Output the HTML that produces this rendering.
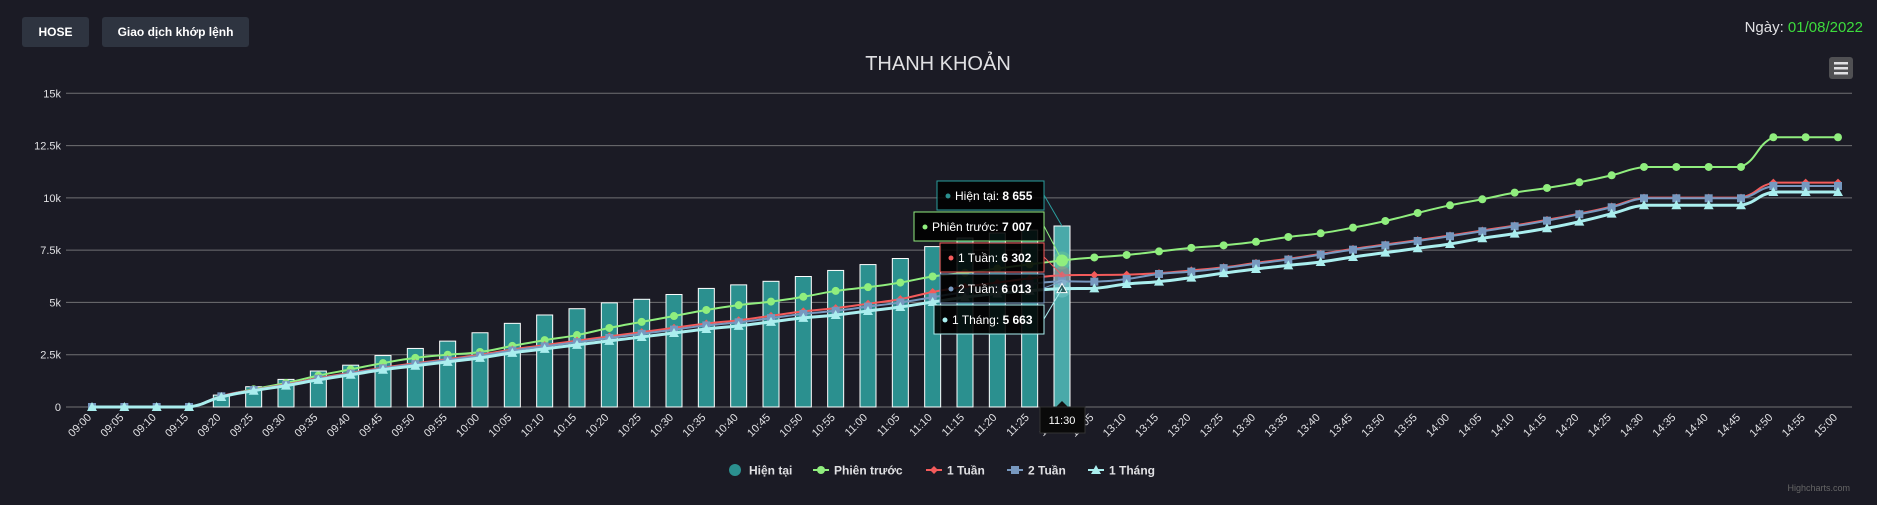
<!DOCTYPE html>
<html><head><meta charset="utf-8"><style>
html,body{margin:0;padding:0;background:#1b1b25;width:1877px;height:505px;overflow:hidden;font-family:"Liberation Sans","Noto Sans CJK SC",sans-serif}
.btn{position:absolute;top:17px;height:30px;background:#2e3440;border-radius:3px;color:#fff;font-size:12px;font-weight:bold;line-height:30px;text-align:center}
svg{position:absolute;left:0;top:0}
</style></head><body>
<div class="btn" style="left:22px;width:67px">HOSE</div>
<div class="btn" style="left:102px;width:147px">Giao dịch khớp lệnh</div>
<div style="position:absolute;right:14px;top:19px;font-size:15px;color:#e0e0e3">Ngày: <span style="color:#3ddc3d">01/08/2022</span></div>
<svg id="chart" width="1877" height="505"></svg>
<script>
const categories=["09:00","09:05","09:10","09:15","09:20","09:25","09:30","09:35","09:40","09:45","09:50","09:55","10:00","10:05","10:10","10:15","10:20","10:25","10:30","10:35","10:40","10:45","10:50","10:55","11:00","11:05","11:10","11:15","11:20","11:25","11:30","13:05","13:10","13:15","13:20","13:25","13:30","13:35","13:40","13:45","13:50","13:55","14:00","14:05","14:10","14:15","14:20","14:25","14:30","14:35","14:40","14:45","14:50","14:55","15:00"];
const current=[0,0,0,0,570,970,1320,1720,2000,2460,2800,3150,3550,4000,4400,4700,4980,5150,5380,5670,5840,6010,6240,6530,6810,7100,7670,8080,8320,8460,8655];
const prevSession=[0,0,0,0,500,850,1150,1500,1800,2100,2350,2500,2630,2920,3200,3440,3780,4070,4350,4640,4870,5040,5270,5550,5730,5950,6240,6420,6620,6820,7007,7150,7270,7440,7610,7730,7900,8130,8307,8577,8895,9278,9645,9932,10250,10474,10745,11080,11478,11478,11478,11478,12898,12898,12898];
const week1=[0,0,0,0,520,820,1080,1380,1630,1880,2090,2290,2500,2750,2960,3170,3380,3580,3790,3990,4150,4360,4570,4730,4940,5160,5500,5750,5950,6150,6302,6313,6330,6400,6530,6680,6890,7090,7320,7560,7770,7980,8200,8440,8680,8950,9250,9590,10010,10010,10010,10010,10727,10727,10727];
const week2=[0,0,0,0,510,810,1060,1350,1600,1850,2050,2250,2450,2700,2900,3100,3300,3500,3700,3900,4050,4250,4450,4600,4800,5000,5250,5500,5700,5880,6013,5993,6121,6360,6473,6640,6850,7050,7284,7523,7731,7939,8163,8402,8641,8909,9215,9550,9980,9980,9980,9980,10569,10569,10569];
const month1=[0,0,0,0,480,780,1020,1300,1540,1780,1970,2160,2350,2590,2780,2970,3160,3350,3540,3730,3880,4070,4260,4400,4590,4780,5020,5250,5430,5560,5663,5675,5882,5993,6185,6400,6600,6770,6934,7173,7380,7589,7795,8068,8290,8546,8862,9245,9645,9645,9645,9645,10282,10282,10282];
const yTicks=[0,2500,5000,7500,10000,12500,15000];
const yTickLabels=["0","2.5k","5k","7.5k","10k","12.5k","15k"];
const hoverIndex=30;

const NS="http://www.w3.org/2000/svg";
const svg=document.getElementById('chart');
const X0=92,X1=1838,Y0=407,Y1=93.3,YMAX=15000;
function xPos(i){return X0+(X1-X0)*i/(categories.length-1);}
function yPos(v){return Y0-(Y0-Y1)*v/YMAX;}
function mk(tag,attrs,parent){const e=document.createElementNS(NS,tag);for(const k in attrs)e.setAttribute(k,attrs[k]);(parent||svg).appendChild(e);return e;}

// title
const title=mk('text',{x:938,y:70,'text-anchor':'middle','font-size':20,fill:'#e0e0e3'});


title.textContent='THANH KHOẢN';
// menu
const menu=mk('g',{});


mk('rect',{x:1829,y:57,width:24,height:22,rx:3,fill:'#505053'},menu);
for(let k=0;k<3;k++)mk('rect',{x:1834,y:62+k*5,width:14,height:2.5,fill:'#e0e0e3'},menu);

// grid
yTicks.forEach((v,i)=>{
  const g=mk('line',{x1:66,x2:1852,y1:yPos(v),y2:yPos(v),stroke:'#707073','stroke-width':1});
  
  
  const t=mk('text',{x:61,y:yPos(v)+4,'text-anchor':'end','font-size':11,fill:'#e0e0e3'});
  
  
  t.textContent=yTickLabels[i];
});
// x labels
categories.forEach((c,i)=>{
  const x=xPos(i),y=418;
  const t=mk('text',{x:x,y:y,'text-anchor':'end','font-size':11,fill:'#e0e0e3',transform:`rotate(-45 ${x} ${y})`});
  
  
  t.textContent=c;
});
// bars
current.forEach((v,i)=>{
  const w=16;
  const r=mk('rect',{x:xPos(i)-w/2,y:yPos(v),width:w,height:Y0-yPos(v),fill:i===hoverIndex?'#4aa9a9':'#2b908f',stroke:'#fff','stroke-width':1});
  
  
});
function spline(arr){
  const p=arr.map((v,i)=>[xPos(i),yPos(v)]);
  let d=`M${p[0][0]},${p[0][1]}`;
  const s=1.5;
  for(let i=1;i<p.length;i++){
    const a=p[i-1],b=p[i],pa=p[i-2]||a,pb=p[i+1]||b;
    let c1x=a[0]+(b[0]-pa[0])/(s*2.5),c1y=a[1]+(b[1]-pa[1])/(s*2.5);
    let c2x=b[0]-(pb[0]-a[0])/(s*2.5),c2y=b[1]-(pb[1]-a[1])/(s*2.5);
    const lo=Math.min(a[1],b[1]),hi=Math.max(a[1],b[1]);
    c1y=Math.min(hi,Math.max(lo,c1y));c2y=Math.min(hi,Math.max(lo,c2y));
    d+=` C${c1x},${c1y} ${c2x},${c2y} ${b[0]},${b[1]}`;
  }
  return d;
}
function series(arr,color,width,marker,name){
  const g=mk('g',{});
  
  
  mk('path',{d:spline(arr),fill:'none',stroke:color,'stroke-width':width},g);
  arr.forEach((v,i)=>{
    const x=xPos(i),y=yPos(v);
    if(i===hoverIndex) mk('circle',{cx:x,cy:y,r:9,fill:color,'fill-opacity':0.25},g);
    let m;
    if(marker==='circle') m=mk('circle',{cx:x,cy:y,r:i===hoverIndex?6:4,fill:color},g);
    else if(marker==='diamond') m=mk('path',{d:`M${x},${y-4}L${x+4},${y}L${x},${y+4}L${x-4},${y}Z`,fill:color},g);
    else if(marker==='square') m=mk('rect',{x:x-4,y:y-4,width:8,height:8,fill:color},g);
    else m=mk('path',{d:`M${x},${y-5}L${x+5},${y+4}L${x-5},${y+4}Z`,fill:i===hoverIndex?'#2b5c5c':color,stroke:i===hoverIndex?'#fff':'none'},g);
    
    
  });
}
series(prevSession,'#90ee7e',2,'circle','series-previous-session');
series(week1,'#f45b5b',2,'diamond','series-1-week');
series(week2,'#7798BF',2,'square','series-2-weeks');
series(month1,'#aaeeee',3,'triangle','series-1-month');

// tooltip
const hx=xPos(hoverIndex);
const tips=[
 {label:'Hiện tại',val:current[hoverIndex],color:'#2b908f',border:'#2a9d9d',x:937,y:181,py:yPos(current[hoverIndex])},
 {label:'Phiên trước',val:prevSession[hoverIndex],color:'#90ee7e',border:'#90ee7e',x:914,y:212,py:yPos(prevSession[hoverIndex])},
 {label:'1 Tuần',val:week1[hoverIndex],color:'#f45b5b',border:'#f45b5b',x:940,y:243,py:yPos(week1[hoverIndex])},
 {label:'2 Tuần',val:week2[hoverIndex],color:'#7798BF',border:'#7798BF',x:940,y:274,py:yPos(week2[hoverIndex])},
 {label:'1 Tháng',val:month1[hoverIndex],color:'#aaeeee',border:'#aaeeee',x:934,y:305,py:yPos(month1[hoverIndex])}
];
function fmt(v){return String(v).replace(/\B(?=(\d{3})+(?!\d))/g,' ');}
tips.forEach(t=>{
  const g=mk('g',{});
  
  
  mk('line',{x1:1044,y1:t.y+14,x2:hx,y2:t.py,stroke:t.border,'stroke-width':1},g);
  mk('rect',{x:t.x,y:t.y,width:1044-t.x,height:29,fill:'#000','fill-opacity':0.88,stroke:t.border,'stroke-width':1},g);
  mk('circle',{cx:t.x+11,cy:t.y+15,r:2.5,fill:t.color},g);
  const tx=mk('text',{x:t.x+18,y:t.y+19,'font-size':12,fill:'#fff'},g);
  tx.textContent=t.label+': ';
  const b=mk('tspan',{'font-weight':'bold'},tx);b.textContent=fmt(t.val);
});
const xl=mk('g',{});


mk('path',{d:`M${hx-6},407L${hx},401L${hx+6},407Z`,fill:'#111'},xl);
mk('rect',{x:hx-22,y:407,width:45,height:26,fill:'#0a0a0a',stroke:'#333'},xl);
const xlt=mk('text',{x:hx,y:424,'text-anchor':'middle','font-size':11,fill:'#fff'},xl);xlt.textContent=categories[hoverIndex];

// legend
const leg=[['Hiện tại','#2b908f','bar',735],['Phiên trước','#90ee7e','circle',821],['1 Tuần','#f45b5b','diamond',934],['2 Tuần','#7798BF','square',1015],['1 Tháng','#aaeeee','triangle',1096]];
leg.forEach(l=>{
  const g=mk('g',{});
  
  
  const x=l[3],y=470;
  if(l[2]==='bar'){mk('circle',{cx:x,cy:y,r:6,fill:l[1]},g);}
  else{
    mk('line',{x1:x-8,x2:x+8,y1:y,y2:y,stroke:l[1],'stroke-width':2},g);
    if(l[2]==='circle')mk('circle',{cx:x,cy:y,r:4,fill:l[1]},g);
    else if(l[2]==='diamond')mk('path',{d:`M${x},${y-4}L${x+4},${y}L${x},${y+4}L${x-4},${y}Z`,fill:l[1]},g);
    else if(l[2]==='square')mk('rect',{x:x-4,y:y-4,width:8,height:8,fill:l[1]},g);
    else mk('path',{d:`M${x},${y-5}L${x+5},${y+4}L${x-5},${y+4}Z`,fill:l[1]},g);
  }
  const t=mk('text',{x:l[2]==='bar'?x+14:x+13,y:y+4.5,'font-size':12,'font-weight':'bold',fill:'#e0e0e3'},g);
  t.textContent=l[0];
});
const cr=mk('text',{x:1850,y:491,'text-anchor':'end','font-size':9,fill:'#666'});


cr.textContent='Highcharts.com';
</script>
</body></html>
